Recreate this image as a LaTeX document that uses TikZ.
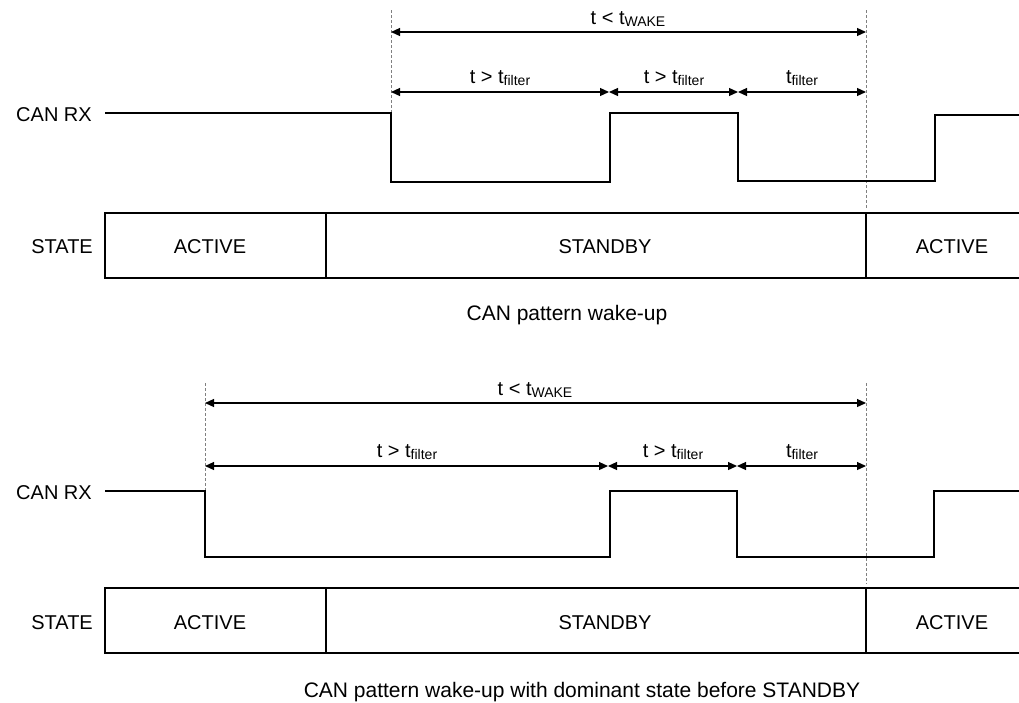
\documentclass[tikz,border=0pt]{standalone}
\usepackage{fontspec}
\setmainfont{Liberation Sans}
\usetikzlibrary{arrows.meta}
\newcommand\tsubx[1]{t\raisebox{-2.5pt}{\fontsize{14}{14}\selectfont #1}}
\begin{document}
\begin{tikzpicture}[x=1pt,y=-1pt,
  lbl/.style={font=\fontsize{20}{24}\selectfont, inner sep=0pt, anchor=base},
  rlbl/.style={lbl, anchor=base east},
  captext/.style={lbl, font=\fontsize{21}{25}\selectfont},
  sig/.style={line width=2pt, line join=miter},
  dim/.style={line width=1.2pt, {Triangle[length=9pt,width=8pt]}-{Triangle[length=9pt,width=8pt]}},
  guide/.style={gray, line width=1pt, dash pattern=on 3pt off 2pt},
  frame/.style={line width=2pt}]
\useasboundingbox (0,0) rectangle (1019,702);

% ---------------- top diagram ----------------
\coordinate (g1t) at (391,10);   \coordinate (g1b) at (391,113);
\coordinate (g2t) at (866,10);   \coordinate (g2b) at (866,208);
\draw[guide] (g1t) -- (g1b);
\draw[guide] (g2t) -- (g2b);

\coordinate (w1) at (391,32); \coordinate (w2) at (866,32);
\draw[dim] (w1) -- (w2);
\node[lbl] (wl) at (628,24) {t < \tsubx{WAKE}};

\coordinate (f0) at (391,92); \coordinate (f1) at (609,92);
\coordinate (f2) at (738,92); \coordinate (f3) at (866,92);
\draw[dim] (f0) -- (f1);
\draw[dim] (f1) -- (f2);
\draw[dim] (f2) -- (f3);
\node[lbl] (fl1) at (500,83) {t > \tsubx{filter}};
\node[lbl] (fl2) at (674,83) {t > \tsubx{filter}};
\node[lbl] (fl3) at (802,83) {\tsubx{filter}};

\node[rlbl] (rx1) at (92,121) {CAN RX};
\draw[sig] (105,113) -- (391,113) -- (391,182) -- (610,182) -- (610,113)
  -- (738,113) -- (738,181) -- (935,181) -- (935,115) -- (1019,115);

\node[rlbl] (st1) at (93,253) {STATE};
\draw[frame] (1019,213) -- (105,213) -- (105,278) -- (1019,278);
\draw[frame] (326,213) -- (326,278);
\draw[frame] (866,213) -- (866,278);
\node[lbl] (a1) at (210,253) {ACTIVE};
\node[lbl] (s1) at (605,253) {STANDBY};
\node[lbl] (a2) at (952,253) {ACTIVE};
\node[captext] (c1) at (567,320) {CAN pattern wake-up};

% ---------------- bottom diagram ----------------
\coordinate (h1t) at (205,383);  \coordinate (h1b) at (205,491);
\coordinate (h2t) at (866,383);  \coordinate (h2b) at (866,584);
\draw[guide] (h1t) -- (h1b);
\draw[guide] (h2t) -- (h2b);

\coordinate (v1) at (205,403); \coordinate (v2) at (866,403);
\draw[dim] (v1) -- (v2);
\node[lbl] (wl2) at (535,395) {t < \tsubx{WAKE}};

\coordinate (e0) at (205,466); \coordinate (e1) at (608,466);
\coordinate (e2) at (737,466); \coordinate (e3) at (866,466);
\draw[dim] (e0) -- (e1);
\draw[dim] (e1) -- (e2);
\draw[dim] (e2) -- (e3);
\node[lbl] (gl1) at (407,457) {t > \tsubx{filter}};
\node[lbl] (gl2) at (673,457) {t > \tsubx{filter}};
\node[lbl] (gl3) at (802,457) {\tsubx{filter}};

\node[rlbl] (rx2) at (92,499) {CAN RX};
\draw[sig] (105,491) -- (205,491) -- (205,557) -- (610,557) -- (610,491)
  -- (737,491) -- (737,557) -- (934,557) -- (934,491) -- (1019,491);

\node[rlbl] (st2) at (93,629) {STATE};
\draw[frame] (1019,588) -- (105,588) -- (105,653) -- (1019,653);
\draw[frame] (326,588) -- (326,653);
\draw[frame] (866,588) -- (866,653);
\node[lbl] (a3) at (210,629) {ACTIVE};
\node[lbl] (s2) at (605,629) {STANDBY};
\node[lbl] (a4) at (952,629) {ACTIVE};
\node[captext] (c2) at (582,697) {CAN pattern wake-up with dominant state before STANDBY};
\end{tikzpicture}
\end{document}
